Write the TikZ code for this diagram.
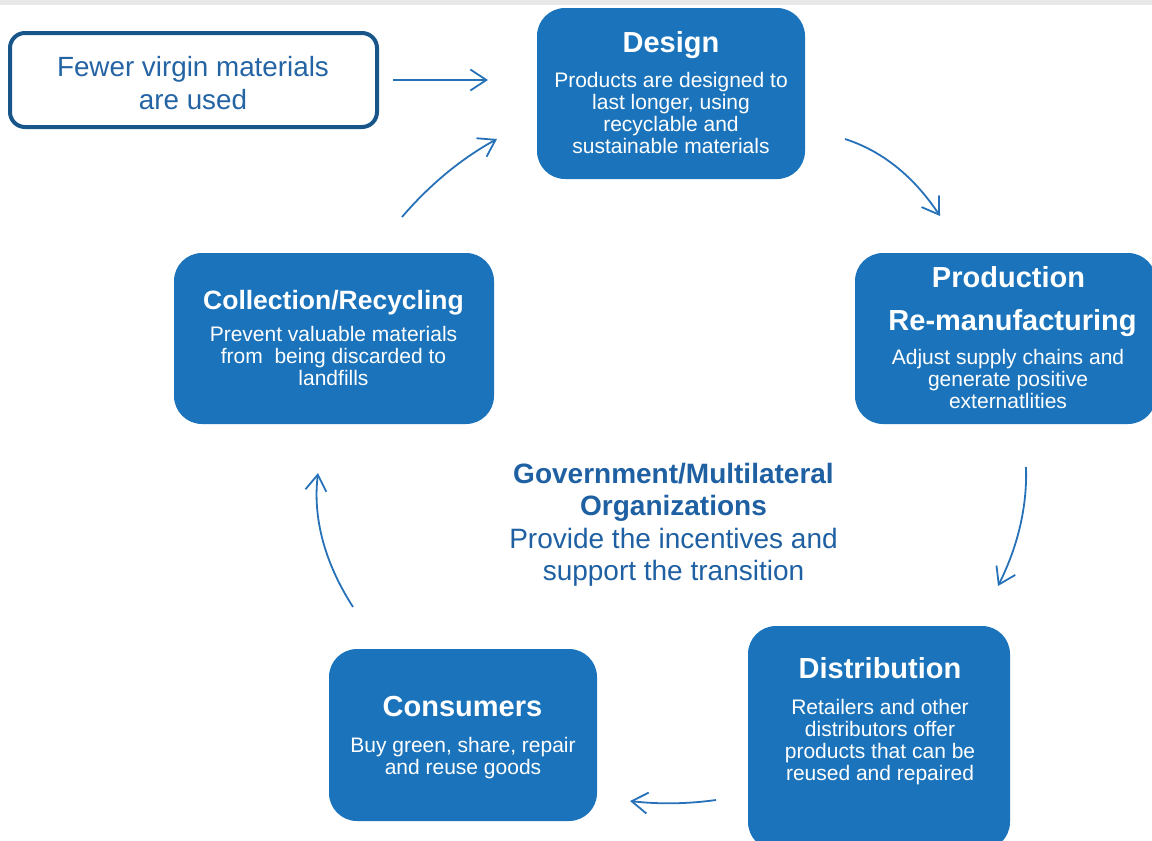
\documentclass[tikz,border=0pt]{standalone}
\usepackage{fontspec}
\setmainfont{Liberation Sans}
\usetikzlibrary{arrows.meta,calc}
\definecolor{boxblue}{RGB}{27,116,187}
\definecolor{edgeblue}{RGB}{24,86,138}
\definecolor{fewtext}{RGB}{36,100,165}
\definecolor{govblue}{RGB}{30,96,162}
\definecolor{arrblue}{RGB}{38,113,184}
\definecolor{topgray}{RGB}{232,232,232}
\tikzset{
  bluebox/.style={fill=boxblue, draw=none, rounded corners=28pt, inner sep=0pt},
  outlinebox/.style={draw=edgeblue, line width=4pt, fill=white, rounded corners=15pt, inner sep=0pt},
  ttl/.style={text=white, font=\fontsize{29}{33}\selectfont\bfseries, inner sep=0pt, text height=21pt, text depth=0pt},
  bdy/.style={text=white, font=\fontsize{21}{22}\selectfont, align=center, inner sep=0pt, anchor=north},
  arr/.style={draw=arrblue, line width=1.8pt, -{Straight Barb[length=16pt,width=21pt,line width=1.8pt]}},
}
\newcommand{\qcurve}[3]{% start, control, end (quadratic)
  \draw[arr] (#1) .. controls ($(#1)!2/3!(#2)$) and ($(#3)!2/3!(#2)$) .. (#3);}
\begin{document}
\begin{tikzpicture}[x=1pt,y=-1pt]
\useasboundingbox (0,0) rectangle (1152,841);
\clip (0,0) rectangle (1152,841);
\fill[topgray] (0,0) rectangle (1152,5);

% boxes
\node[outlinebox, minimum width=367, minimum height=94] (fewer) at (193.5,80) {};
\node[bluebox, minimum width=268, minimum height=171] (design) at (671,93.5) {};
\node[bluebox, minimum width=301, minimum height=171] (prod) at (1005.5,338.5) {};
\node[bluebox, minimum width=262, minimum height=224] (dist) at (879,738) {};
\node[bluebox, minimum width=268, minimum height=172] (cons) at (463,735) {};
\node[bluebox, minimum width=320, minimum height=171] (coll) at (334,338.5) {};

% texts
\node[text=fewtext, font=\fontsize{27.8}{33}\selectfont, align=center, inner sep=0pt, anchor=north] (fewert) at (193,56)
  {Fewer virgin materials\\are used};

\node[ttl] (designt) at (671,42) {Design};
\node[bdy] (designb) at (671,72) {Products are designed to\\last longer, using\\recyclable and\\sustainable materials};

\node[ttl] (prodt) at (1008.5,277) {Production};
\node[ttl] (prodt2) at (1012.5,320) {Re-manufacturing};
\node[bdy] (prodb) at (1008,349) {Adjust supply chains and\\generate positive\\externatlities};

\node[ttl] (distt) at (880,668) {Distribution};
\node[bdy] (distb) at (880,699) {Retailers and other\\distributors offer\\products that can be\\reused and repaired};

\node[ttl] (const) at (462.5,706) {Consumers};
\node[bdy] (consb) at (463,737) {Buy green, share, repair\\and reuse goods};

\node[ttl, font=\fontsize{26.5}{30}\selectfont\bfseries, text height=19pt] (collt) at (333.5,300) {Collection/Recycling};
\node[bdy] (collb) at (333.5,326) {Prevent valuable materials\\from\ \ being discarded to\\landfills};

\node[text=govblue, font=\fontsize{28}{32.3}\selectfont, align=center, inner sep=0pt, anchor=north] (gov) at (673.5,463)
  {\textbf{Government/Multilateral}\\\textbf{Organizations}\\Provide the incentives and\\support the transition};

% connector end points
\coordinate (a1s) at (393,80);   \coordinate (a1e) at (488,80);
\coordinate (a2s) at (845,139);  \coordinate (a2c) at (901,157);  \coordinate (a2e) at (940,216);
\coordinate (a3s) at (1026,467); \coordinate (a3c) at (1028,526); \coordinate (a3e) at (998,586);
\coordinate (a4s) at (716,800);  \coordinate (a4c) at (673,806);  \coordinate (a4e) at (630,801);
\coordinate (a5s) at (353,607);  \coordinate (a5c) at (310,540);  \coordinate (a5e) at (318,473);
\coordinate (a6s) at (402,217);  \coordinate (a6c) at (444,168);  \coordinate (a6e) at (497,139);

\draw[arr] (a1s) -- (a1e);
\qcurve{a2s}{a2c}{a2e}
\qcurve{a3s}{a3c}{a3e}
\qcurve{a4s}{a4c}{a4e}
\qcurve{a5s}{a5c}{a5e}
\qcurve{a6s}{a6c}{a6e}
\end{tikzpicture}
\end{document}
